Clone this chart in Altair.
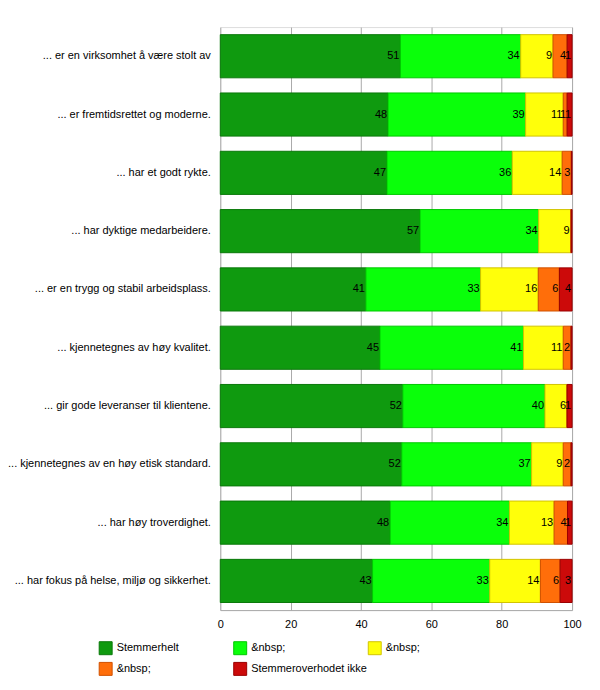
import altair as alt
import pandas as pd

categories = [
    "... er en virksomhet å være stolt av",
    "... er fremtidsrettet og moderne.",
    "... har et godt rykte.",
    "... har dyktige medarbeidere.",
    "... er en trygg og stabil arbeidsplass.",
    "... kjennetegnes av høy kvalitet.",
    "... gir gode leveranser til klientene.",
    "... kjennetegnes av en høy etisk standard.",
    "... har høy troverdighet.",
    "... har fokus på helse, miljø og sikkerhet.",
]

series = ["Stemmerhelt", "&nbsp;", "&nbsp; ", "&nbsp;  ", "Stemmeroverhodet ikke"]
fills = ["#0f9a0f", "#0aff0a", "#ffff0a", "#ff6e0a", "#cc0a0a"]
strokes = ["#0a780a", "#00c800", "#d2c400", "#d05000", "#9a0000"]

s1 = [51.2, 47.7, 47.4, 56.8, 41.4, 45.4, 51.9, 51.6, 48.3, 43.3]
s2 = [34.2, 39.1, 35.6, 33.7, 32.6, 40.8, 40.4, 36.9, 33.9, 33.3]
s3 = [9.2, 10.7, 14.2, 9.1, 16.4, 11.3, 6.3, 9.0, 12.7, 14.4]
s4 = [4.0, 1.1, 2.6, 0.2, 6.0, 2.2, 0.0, 2.2, 3.8, 5.6]
s5 = [1.4, 1.4, 0.2, 0.2, 3.6, 0.3, 1.4, 0.3, 1.3, 3.4]

rows = []
for si, vals in enumerate([s1, s2, s3, s4, s5]):
    for ci, cat in enumerate(categories):
        rows.append({"category": cat, "series": series[si], "order": si, "value": vals[ci]})
df = pd.DataFrame(rows)

FONT = "Liberation Sans"

base = alt.Chart(df).transform_stack(
    stack="value", as_=["x0", "x1"], groupby=["category"], sort=[alt.SortField("order")]
)

y_enc = alt.Y(
    "category:N",
    sort=categories,
    title=None,
    scale=alt.Scale(paddingInner=0.26, paddingOuter=0.13),
    axis=alt.Axis(ticks=False, domain=False, labelPadding=10, labelFontSize=11,
                  labelFont=FONT, labelColor="#000000", labelLimit=300),
)

legend_kw = dict(orient="none", legendX=-122, legendY=616, columns=3,
                 direction="horizontal",
                 gridAlign="all", columnPadding=-2, rowPadding=3,
                 symbolType="square", symbolSize=169, symbolStrokeWidth=1,
                 labelFontSize=11, labelFont=FONT, labelColor="#000000",
                 labelOffset=4, labelLimit=300)

bars = base.mark_bar(strokeWidth=1).encode(
    x=alt.X("x0:Q", title=None,
            scale=alt.Scale(domain=[0, 100], nice=False),
            axis=alt.Axis(values=[0, 20, 40, 60, 80, 100], grid=True, gridColor="#aaaaaa",
                          domainColor="#aaaaaa", ticks=False, labelPadding=8,
                          labelFlush=False,
                          labelFontSize=11, labelFont=FONT, labelColor="#000000")),
    x2="x1:Q",
    y=y_enc,
    fill=alt.Fill("series:N", scale=alt.Scale(domain=series, range=fills),
                  sort=series, title=None, legend=alt.Legend(**legend_kw)),
    stroke=alt.Stroke("series:N", scale=alt.Scale(domain=series, range=strokes),
                      sort=series, title=None, legend=alt.Legend(**legend_kw)),
    order=alt.Order("order:Q"),
)

labels = base.transform_filter("datum.value >= 0.5").mark_text(
    align="right", baseline="middle", dx=-1, fontSize=11, font=FONT, color="#000000"
).encode(
    x="x1:Q",
    y=alt.Y("category:N", sort=categories),
    text=alt.Text("value:Q", format=".0f"),
)

chart = alt.layer(bars, labels).properties(
    width=353, height=585,
    autosize=alt.AutoSizeParams(type="none"),
    padding={"left": 213, "top": 18, "right": 20, "bottom": 70},
).configure_view(stroke="#aaaaaa").configure(background="#ffffff")

chart.save("out.html", embed_options={"renderer": "svg", "actions": False})
